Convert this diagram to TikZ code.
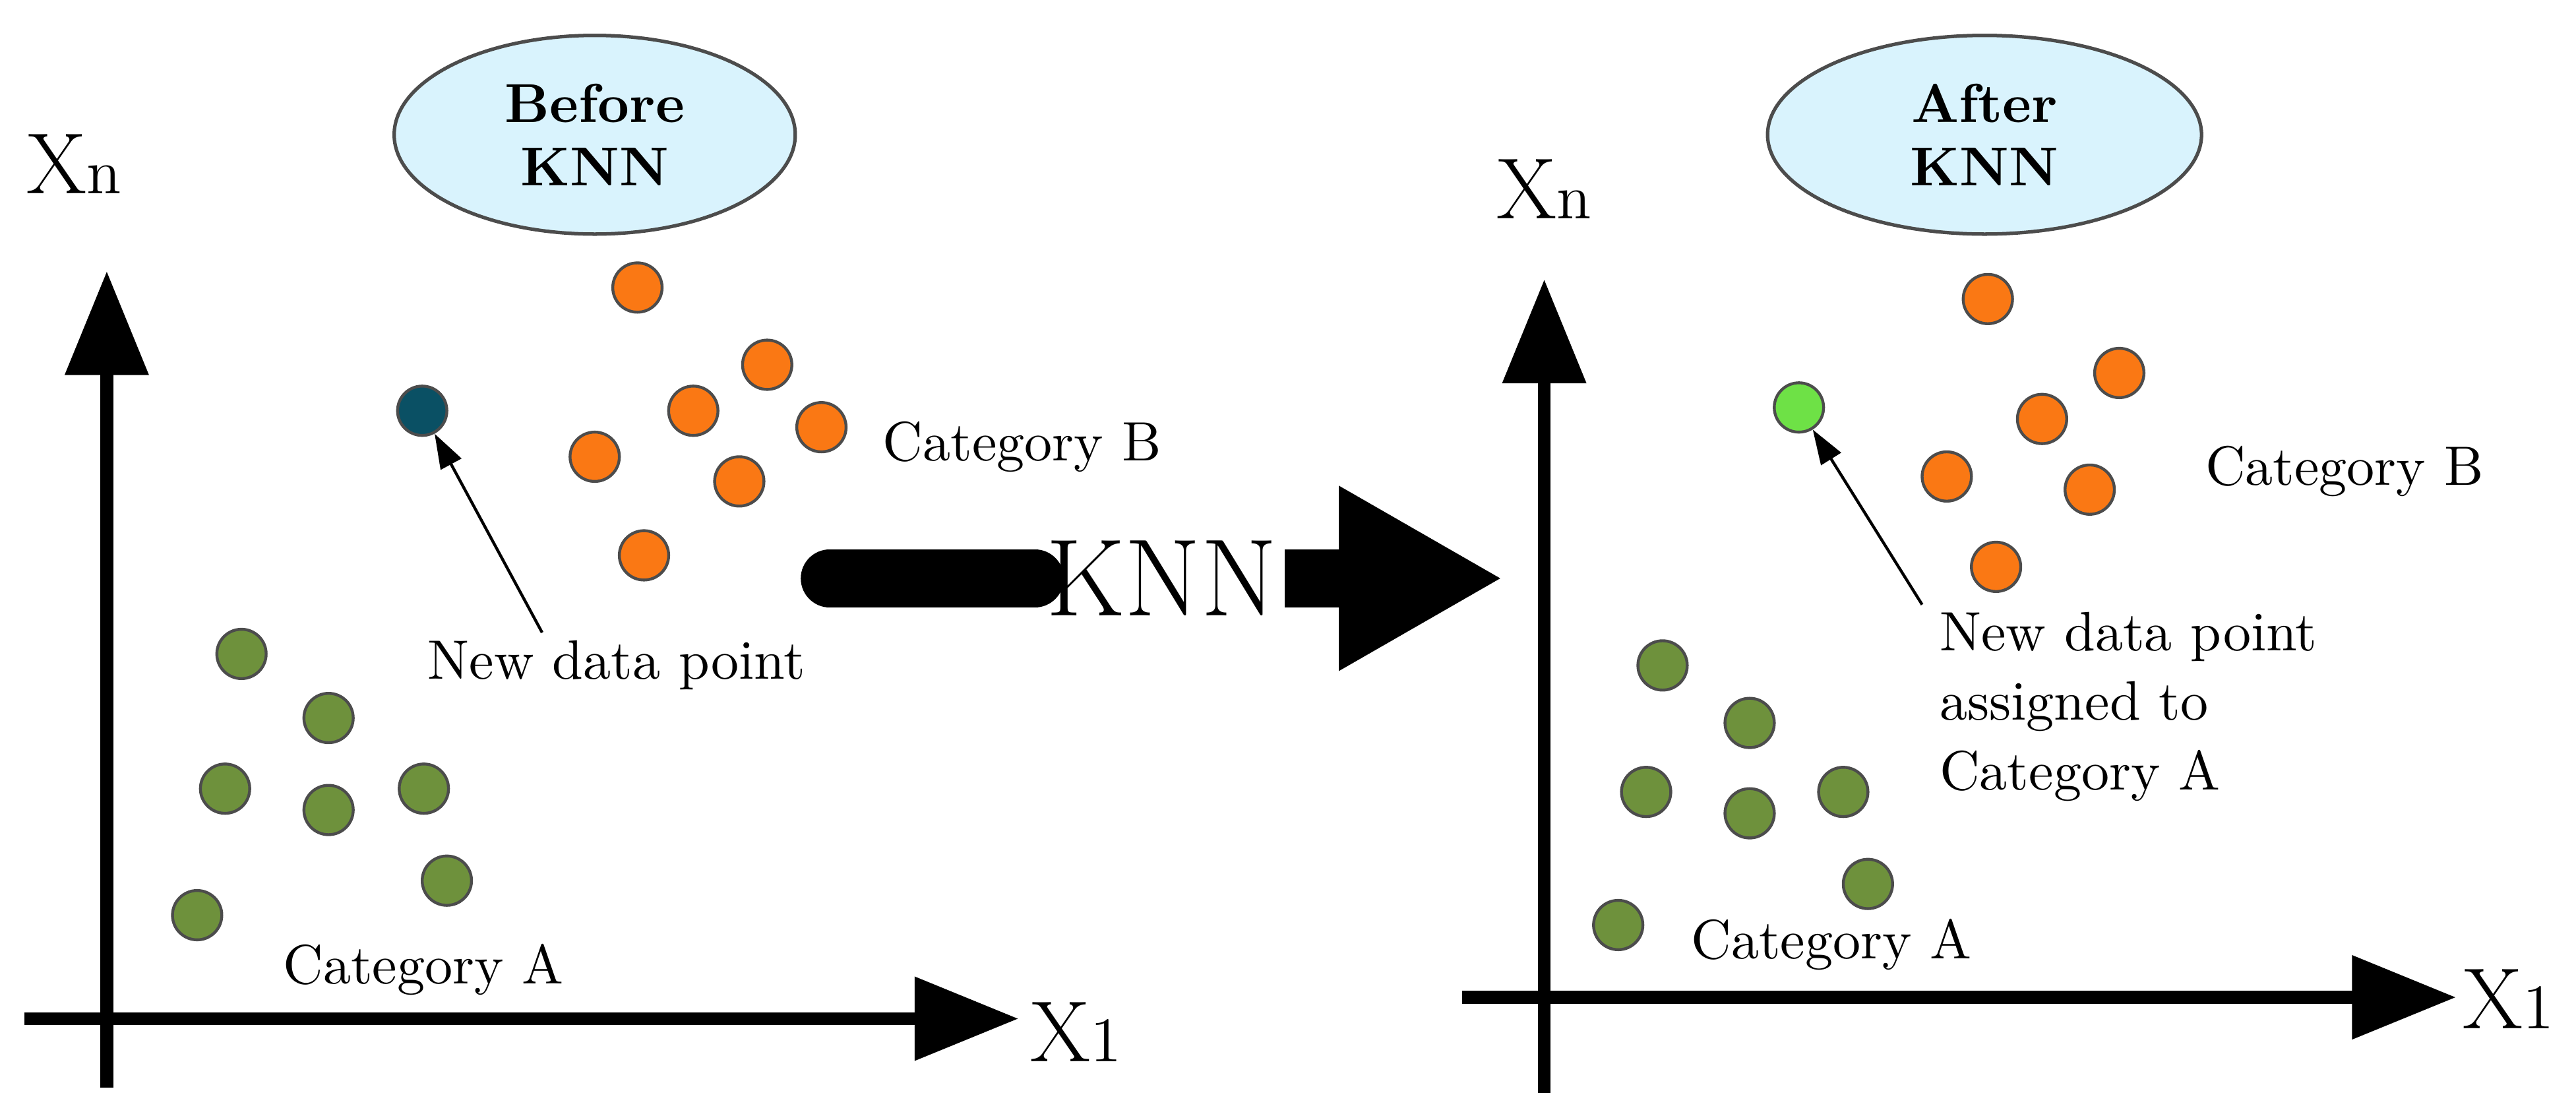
\documentclass[tikz,border=0pt]{standalone}
\usetikzlibrary{arrows.meta,shapes.geometric}
\begin{document}
\begin{tikzpicture}[x=0.01cm,y=-0.01cm,
  dot/.style={circle,draw=black!70,line width=0.5pt,minimum size=0.3cm,inner sep=0pt},
  org/.style={dot,fill=og},
  grn/.style={dot,fill=gg},
  lbl/.style={font=\fontsize{9.6}{12}\selectfont,anchor=west},
  ax/.style={font=\fontsize{15}{16}\selectfont},
  ell/.style={ellipse,draw=black!70,fill=cyan!15,line width=0.6pt,font=\bfseries\fontsize{9.5}{11}\selectfont,align=center},
  pt/.style={-{Triangle[length=6pt,width=4pt]},line width=0.5pt}]
\definecolor{og}{RGB}{250,120,20}\definecolor{gg}{RGB}{110,145,60}
\useasboundingbox (0,0) rectangle (1568,679);
% left axes
\coordinate (l0) at (65,662); \coordinate (lt) at (65,165);
\coordinate (h0) at (15,620); \coordinate (hr) at (620,620);
\draw[line width=2.2pt,-{Triangle[length=18pt,width=14pt]}] (l0)--(lt);
\draw[line width=2.2pt,-{Triangle[length=18pt,width=14pt]}] (h0)--(hr);
\node[ax] (xnl) at (45,100) {X\fontsize{11}{12}\selectfont n};
\node[ax] (x1l) at (655,628) {X\fontsize{11}{12}\selectfont 1};
\node[ell,minimum width=2.44cm,minimum height=1.1cm] (bk) at (362,82) {Before\\KNN};
\foreach \p/\n in {{(388,175)}/o1,{(467,222)}/o2,{(422,250)}/o3,{(500,260)}/o4,{(362,278)}/o5,{(450,293)}/o6,{(392,338)}/o7}
  \node[org] (\n) at \p {};
\node[dot,fill={rgb,255:red,10;green,80;blue,100}] (nl) at (257,250) {};
\node[lbl] (ndl) at (248,405) {New data point};
\coordinate (ndla) at (330,385);
\draw[pt] (ndla)--(nl);
\node[lbl] (cbl) at (525,272) {Category B};
\foreach \p/\n in {{(147,398)}/g1,{(200,437)}/g2,{(137,480)}/g3,{(200,493)}/g4,{(258,480)}/g5,{(272,536)}/g6,{(120,557)}/g7}
  \node[grn] (\n) at \p {};
\node[lbl] (cal) at (160,590) {Category A};
% KNN arrow
\coordinate (k0) at (505,352); \coordinate (k1) at (630,352);
\coordinate (k2) at (782,352); \coordinate (k3) at (915,352);
\draw[line cap=round,line width=10pt] (k0)--(k1);
\node[font=\fontsize{19}{22}\selectfont] (knn) at (707,352) {KNN};
\draw[line width=10pt,-{Triangle[length=1.0cm,width=1.05cm]}] (k2)--(k3);
% right axes
\coordinate (r0) at (940,665); \coordinate (rt) at (940,170);
\coordinate (rh0) at (890,607); \coordinate (rhr) at (1495,607);
\draw[line width=2.2pt,-{Triangle[length=18pt,width=14pt]}] (r0)--(rt);
\draw[line width=2.2pt,-{Triangle[length=18pt,width=14pt]}] (rh0)--(rhr);
\node[ax] (xnr) at (940,115) {X\fontsize{11}{12}\selectfont n};
\node[ax] (x1r) at (1527,608) {X\fontsize{11}{12}\selectfont 1};
\node[ell,minimum width=2.64cm,minimum height=1.14cm] (ak) at (1208,82) {After\\KNN};
\foreach \p/\n in {{(1210,182)}/p1,{(1290,227)}/p2,{(1243,255)}/p3,{(1185,290)}/p4,{(1272,298)}/p5,{(1215,345)}/p6}
  \node[org] (\n) at \p {};
\node[dot,fill={rgb,255:red,110;green,225;blue,70}] (nr) at (1095,248) {};
\node[lbl,align=left,anchor=north west,inner sep=0pt] (ndr) at (1180,372) {New data point\\assigned to\\Category A};
\coordinate (ndra) at (1170,368);
\draw[pt] (ndra)--(nr);
\node[lbl] (cbr) at (1330,287) {Category B};
\foreach \p/\n in {{(1012,405)}/q1,{(1065,440)}/q2,{(1002,482)}/q3,{(1065,495)}/q4,{(1122,482)}/q5,{(1137,538)}/q6,{(985,563)}/q7}
  \node[grn] (\n) at \p {};
\node[lbl] (car) at (1017,575) {Category A};
\end{tikzpicture}
\end{document}
